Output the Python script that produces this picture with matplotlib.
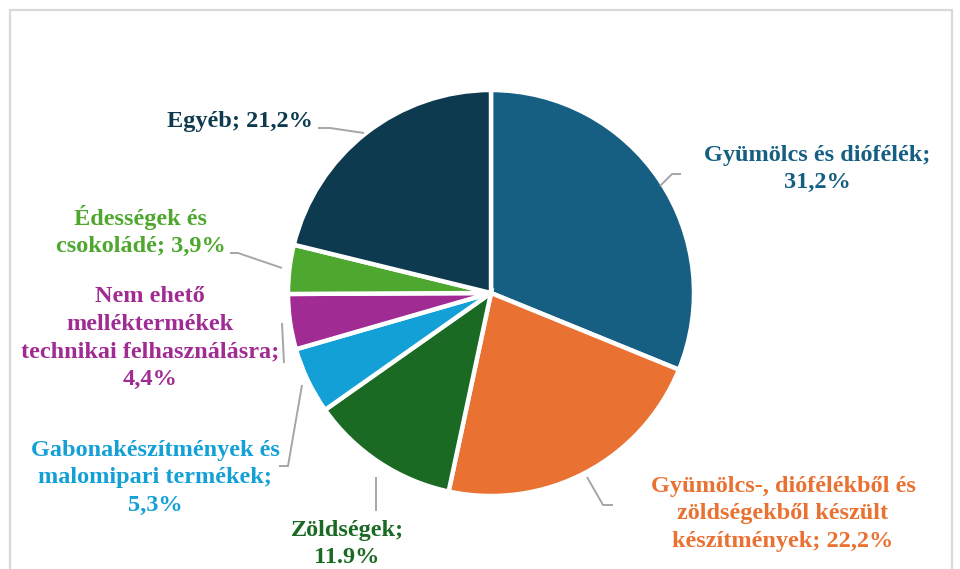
import matplotlib.pyplot as plt
import matplotlib.patheffects as pe
from matplotlib.patches import Rectangle

plt.rcParams["font.family"] = ["Liberation Serif", "DejaVu Serif"]

# data
labels = [
    "Gyümölcs és diófélék;\n31,2%",
    "Gyümölcs-, diófélékből és\nzöldségekből készült\nkészítmények; 22,2%",
    "Zöldségek;\n11.9%",
    "Gabonakészítmények és\nmalomipari termékek;\n5,3%",
    "Nem ehető\nmelléktermékek\ntechnikai felhasználásra;\n4,4%",
    "Édességek és\ncsokoládé; 3,9%",
    "Egyéb; 21,2%",
]
values = [31.2, 22.2, 11.9, 5.3, 4.4, 3.9, 21.2]
colors = ["#165f83", "#e97132", "#1b6a24", "#12a0d7", "#a02b93", "#4ea72e", "#0e3a4f"]

# label positions (pixels, top-left origin) and leader lines
label_pos = [(817, 169), (783, 514), (347, 544), (155, 478), (150, 338), (141, 231), (240, 121)]
leaders = [
    [(660, 186), (672, 174), (681, 174)],
    [(587, 477), (603, 505), (613, 505)],
    [(376, 477), (376, 511)],
    [(302, 385), (288, 466), (279, 466)],
    [(282, 323), (284, 363)],
    [(282, 268), (238, 253), (230, 253)],
    [(364, 133), (330, 128), (318, 128)],
]

W, H = 960, 569
fig = plt.figure(figsize=(W / 100, H / 100), dpi=100)
ax = fig.add_axes([0, 0, 1, 1])

# chart frame
ax.add_patch(Rectangle((10, -20), 942, H - 10 + 20, fill=False, edgecolor="#d9d9d9", lw=1.6))

wedges, _ = ax.pie(values, colors=colors, startangle=90, counterclock=False,
                   center=(491, H - 293), radius=203, frame=True,
                   wedgeprops=dict(edgecolor="white", linewidth=3.2))
for w in wedges:
    w.set_path_effects([pe.SimplePatchShadow(offset=(1, -1), shadow_rgbFace="#999999", alpha=0.35),
                        pe.Normal()])
ax.set_xlim(0, W)
ax.set_ylim(0, H)
ax.set_aspect("equal")
ax.axis("off")

for lab, (x, y), col, pts in zip(labels, label_pos, colors, leaders):
    ax.text(x, H - y, lab, ha="center", va="center", color=col, fontsize=17.5,
            fontweight="bold", linespacing=1.4)
    ax.plot([p[0] for p in pts], [H - p[1] for p in pts], color="#a6a6a6", lw=1.4,
            solid_capstyle="butt")

fig.savefig("out.png", dpi=100)
